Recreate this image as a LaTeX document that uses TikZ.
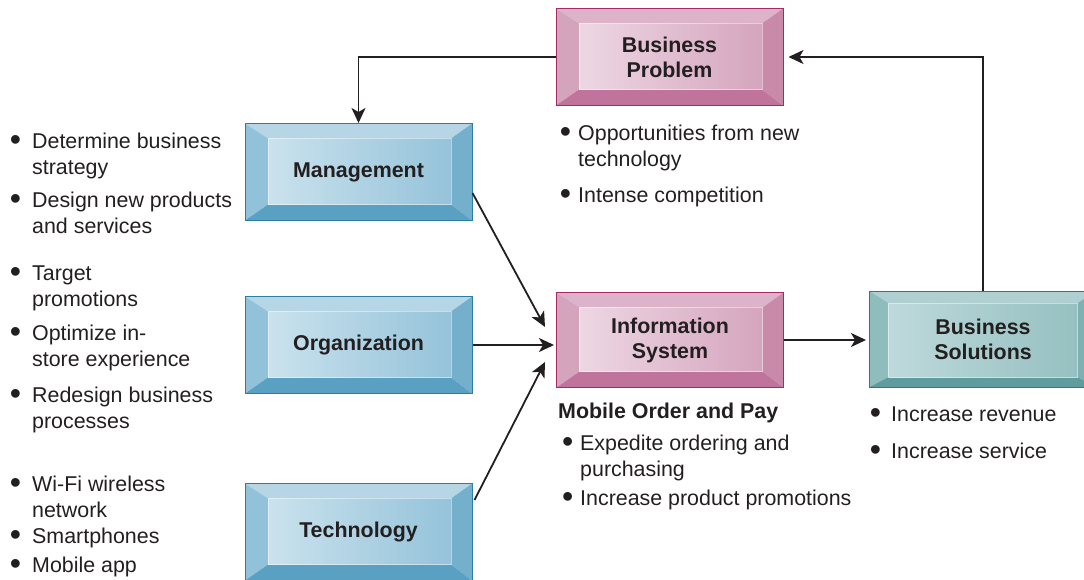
\documentclass[tikz,border=0pt]{standalone}
\usepackage{fontspec}
\setmainfont{Liberation Sans}
\usetikzlibrary{arrows.meta,calc}

\definecolor{txt}{HTML}{231F20}
% pink boxes
\definecolor{pktop}{HTML}{DDB3C9}
\definecolor{pkleft}{HTML}{D4A3BC}
\definecolor{pkright}{HTML}{C98AAA}
\definecolor{pkbot}{HTML}{C0749B}
\definecolor{pkinL}{HTML}{EDD7E3}
\definecolor{pkinR}{HTML}{D5A5BE}
\definecolor{pkedge}{HTML}{A32A65}
% blue boxes
\definecolor{bltop}{HTML}{B6D6E6}
\definecolor{blleft}{HTML}{92C2DA}
\definecolor{blright}{HTML}{74AFCC}
\definecolor{blbot}{HTML}{5AA0C2}
\definecolor{blinL}{HTML}{CAE2ED}
\definecolor{blinR}{HTML}{95C3DA}
\definecolor{bledge}{HTML}{2B7DA4}
% teal boxes
\definecolor{tltop}{HTML}{B0CFD0}
\definecolor{tlleft}{HTML}{8FBCBD}
\definecolor{tlright}{HTML}{7FB1B2}
\definecolor{tlbot}{HTML}{5F9C9D}
\definecolor{tlinL}{HTML}{BED9DB}
\definecolor{tlinR}{HTML}{96C0C1}
\definecolor{tledge}{HTML}{2E7B7C}

\newcommand{\bul}{\raisebox{-2pt}{\scalebox{1.5}{\textbullet}}}

\tikzset{
    bev l/.store in=\bevl, bev r/.store in=\bevr,
    bev t/.store in=\bevt, bev b/.store in=\bevb,
    bev l=23pt, bev r=21pt, bev t=15pt, bev b=16pt,
    bevelbox/.style={
        minimum width=227pt, minimum height=97pt, inner sep=0pt,
        align=center, text=txt,
        font=\bfseries\fontsize{21.4}{25}\selectfont,
        draw=#1edge, line width=1pt,
        path picture={
            \coordinate (onw) at (path picture bounding box.north west);
            \coordinate (one) at (path picture bounding box.north east);
            \coordinate (ose) at (path picture bounding box.south east);
            \coordinate (osw) at (path picture bounding box.south west);
            \coordinate (inw) at ([shift={(\bevl,-\bevt)}]onw);
            \coordinate (ine) at ([shift={(-\bevr,-\bevt)}]one);
            \coordinate (ise) at ([shift={(-\bevr,\bevb)}]ose);
            \coordinate (isw) at ([shift={(\bevl,\bevb)}]osw);
            \fill[#1top] (onw) -- (one) -- (ine) -- (inw) -- cycle;
            \fill[#1left] (onw) -- (inw) -- (isw) -- (osw) -- cycle;
            \fill[#1right] (one) -- (ose) -- (ise) -- (ine) -- cycle;
            \fill[#1bot] (osw) -- (isw) -- (ise) -- (ose) -- cycle;
            \shade[left color=#1inL, right color=#1inR] (inw) rectangle (ise);
            \draw[white, opacity=.45, line width=.6pt] (inw) rectangle (ise);
        }},
    blist/.style={anchor=base west, inner sep=0pt, text=txt,
        font=\fontsize{21.4}{26}\selectfont},
    flow/.style={-{Stealth[length=15pt,width=14pt,inset=4pt]},
        line width=1.8pt, draw=txt},
}

\begin{document}
\begin{tikzpicture}[x=1pt,y=-1pt]
\useasboundingbox (0,0) rectangle (1084,579);
\clip (0,0) rectangle (1084,579);

% boxes
\node[bevelbox=pk] (prob) at (669.5,57) {Business\\Problem};
\node[bevelbox=bl] (mgmt) at (358.5,172) {Management};
\node[bevelbox=bl] (org) at (358.5,345) {Organization};
\node[bevelbox=bl] (tech) at (358.5,532) {Technology};
\node[bevelbox=pk, minimum height=95pt] (info) at (670,340) {Information\\System};
\node[bevelbox=tl, bev l=19pt, bev r=19pt, bev t=12pt, bev b=10pt, minimum height=96pt] (sol) at (983,339) {Business\\Solutions};

% connectors
\draw[flow] (prob.west) -| (mgmt.north);
\draw[flow, shorten >=5pt] (sol.north) |- (prob.east);
\draw[flow] ($(mgmt.east)+(0,21)$) -- ($(info.west)+(-11,-13)$);
\draw[flow, shorten >=2pt] (org.east) -- (org.east -| info.west);
\draw[flow] ($(tech.north east)+(2,17)$) -- ($(info.west)+(-11,22)$);
\draw[flow, shorten >=3pt] (info.east) -- (info.east -| sol.west);

% bullet lists
\node[blist] (mgtxt) at (9.6,148) {\begin{tabular}[t]{@{}p{22.4pt}@{}l@{}}
    \bul & Determine business\\ & strategy\\[7pt]
    \bul & Design new products\\ & and services
    \end{tabular}};
\node[blist] (orgtxt) at (9.6,280) {\begin{tabular}[t]{@{}p{22.4pt}@{}l@{}}
    \bul & Target\\ & promotions\\[8pt]
    \bul & Optimize in-\\ & store experience\\[10pt]
    \bul & Redesign business\\ & processes
    \end{tabular}};
\node[blist] (techtxt) at (9.6,491) {\begin{tabular}[t]{@{}p{22.4pt}@{}l@{}}
    \bul & Wi-Fi wireless\\ & network\\
    \bul & Smartphones\\[3pt]
    \bul & Mobile app
    \end{tabular}};
\node[blist] (probtxt) at (559.6,140) {\begin{tabular}[t]{@{}p{18.4pt}@{}l@{}}
    \bul & Opportunities from new\\ & technology\\[10pt]
    \bul & Intense competition
    \end{tabular}};
\node[blist, font=\bfseries\fontsize{21.4}{26}\selectfont] (infohd) at (558,418) {Mobile Order and Pay};
\node[blist] (infotxt) at (562,450) {\begin{tabular}[t]{@{}p{18pt}@{}l@{}}
    \bul & Expedite ordering and\\ & purchasing\\[3pt]
    \bul & Increase product promotions
    \end{tabular}};
\node[blist] (soltxt) at (869.6,421) {\begin{tabular}[t]{@{}p{21.4pt}@{}l@{}}
    \bul & Increase revenue\\[11pt]
    \bul & Increase service
    \end{tabular}};
\end{tikzpicture}
\end{document}
